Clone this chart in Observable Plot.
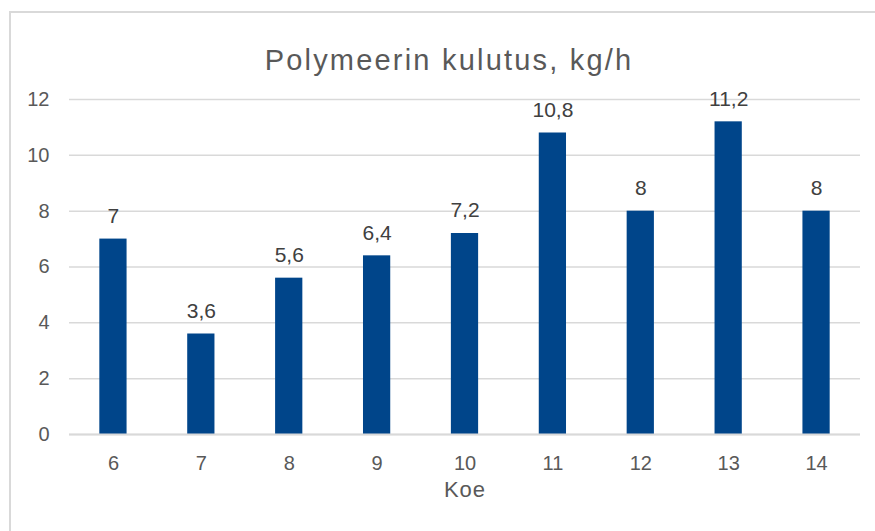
<!DOCTYPE html>
<html>
<head>
<meta charset="utf-8">
<script src="https://cdn.jsdelivr.net/npm/d3@7"></script>
<script src="https://cdn.jsdelivr.net/npm/@observablehq/plot@0.6"></script>
<style>
  html, body { margin: 0; padding: 0; background: #fff; overflow: hidden; }
  #wrap { position: relative; width: 875px; height: 531px; overflow: hidden; }
  .edge { position: absolute; background: #d9d9d9; }
  #edge-left { left: 9px; top: 11px; width: 1.5px; height: 520px; }
  #edge-top { left: 9px; top: 11px; width: 866px; height: 1.5px; }
  #chart { position: absolute; left: 0; top: 0; }
</style>
</head>
<body>
<div id="wrap">
  <div class="edge" id="edge-left"></div>
  <div class="edge" id="edge-top"></div>
  <div id="chart"></div>
</div>
<script>
// Polymer consumption per test run (kg/h)
const koe = ["6", "7", "8", "9", "10", "11", "12", "13", "14"];
const kulutus = [7, 3.6, 5.6, 6.4, 7.2, 10.8, 8, 11.2, 8];
const yTicks = [0, 2, 4, 6, 8, 10, 12];
const title = "Polymeerin kulutus, kg/h";
const xLabel = "Koe";

const fmt = v => String(v).replace(".", ",");
const data = koe.map((k, i) => ({koe: k, kulutus: kulutus[i], label: fmt(kulutus[i])}));

const textColor = "#595959";
const gridColor = "#d9d9d9";
const barColor = "#00458a";

const chart = Plot.plot({
  width: 875,
  height: 531,
  marginTop: 99,
  marginBottom: 97,
  marginLeft: 69,
  marginRight: 15,
  style: {
    fontFamily: "'Liberation Sans', Arial, sans-serif",
    fontSize: "20px",
    color: textColor,
    background: "transparent"
  },
  x: {domain: koe, paddingInner: 0.69, paddingOuter: 0.345, round: false, label: null},
  y: {domain: [0, 12], label: null},
  marks: [
    Plot.gridY(yTicks, {stroke: gridColor, strokeOpacity: 1, strokeWidth: 1.5}),
    Plot.barY(data, {x: "koe", y: "kulutus", fill: barColor}),
    Plot.ruleY([0], {stroke: gridColor, strokeWidth: 2}),
    Plot.axisY(yTicks, {tickSize: 0, tickPadding: 20, label: null, fill: textColor, fontSize: 20}),
    Plot.axisX({tickSize: 0, tickPadding: 21, label: null, fill: textColor, fontSize: 20}),
    Plot.text(data, {x: "koe", y: "kulutus", text: "label", dy: -23, fill: "#404040", fontSize: 21}),
    Plot.text([xLabel], {frameAnchor: "bottom", dy: 62, fill: textColor, fontSize: 22}),
    Plot.text([title], {frameAnchor: "top", dx: -16, dy: -50, fill: textColor, fontSize: 29})
  ]
});

// widen the tracking of the title and axis title
d3.select(chart).selectAll("text")
  .filter(function() { return this.textContent === title; })
  .attr("letter-spacing", "2.2px");
d3.select(chart).selectAll("text")
  .filter(function() { return this.textContent === xLabel; })
  .attr("letter-spacing", "1px");

document.getElementById("chart").append(chart);
</script>
</body>
</html>
